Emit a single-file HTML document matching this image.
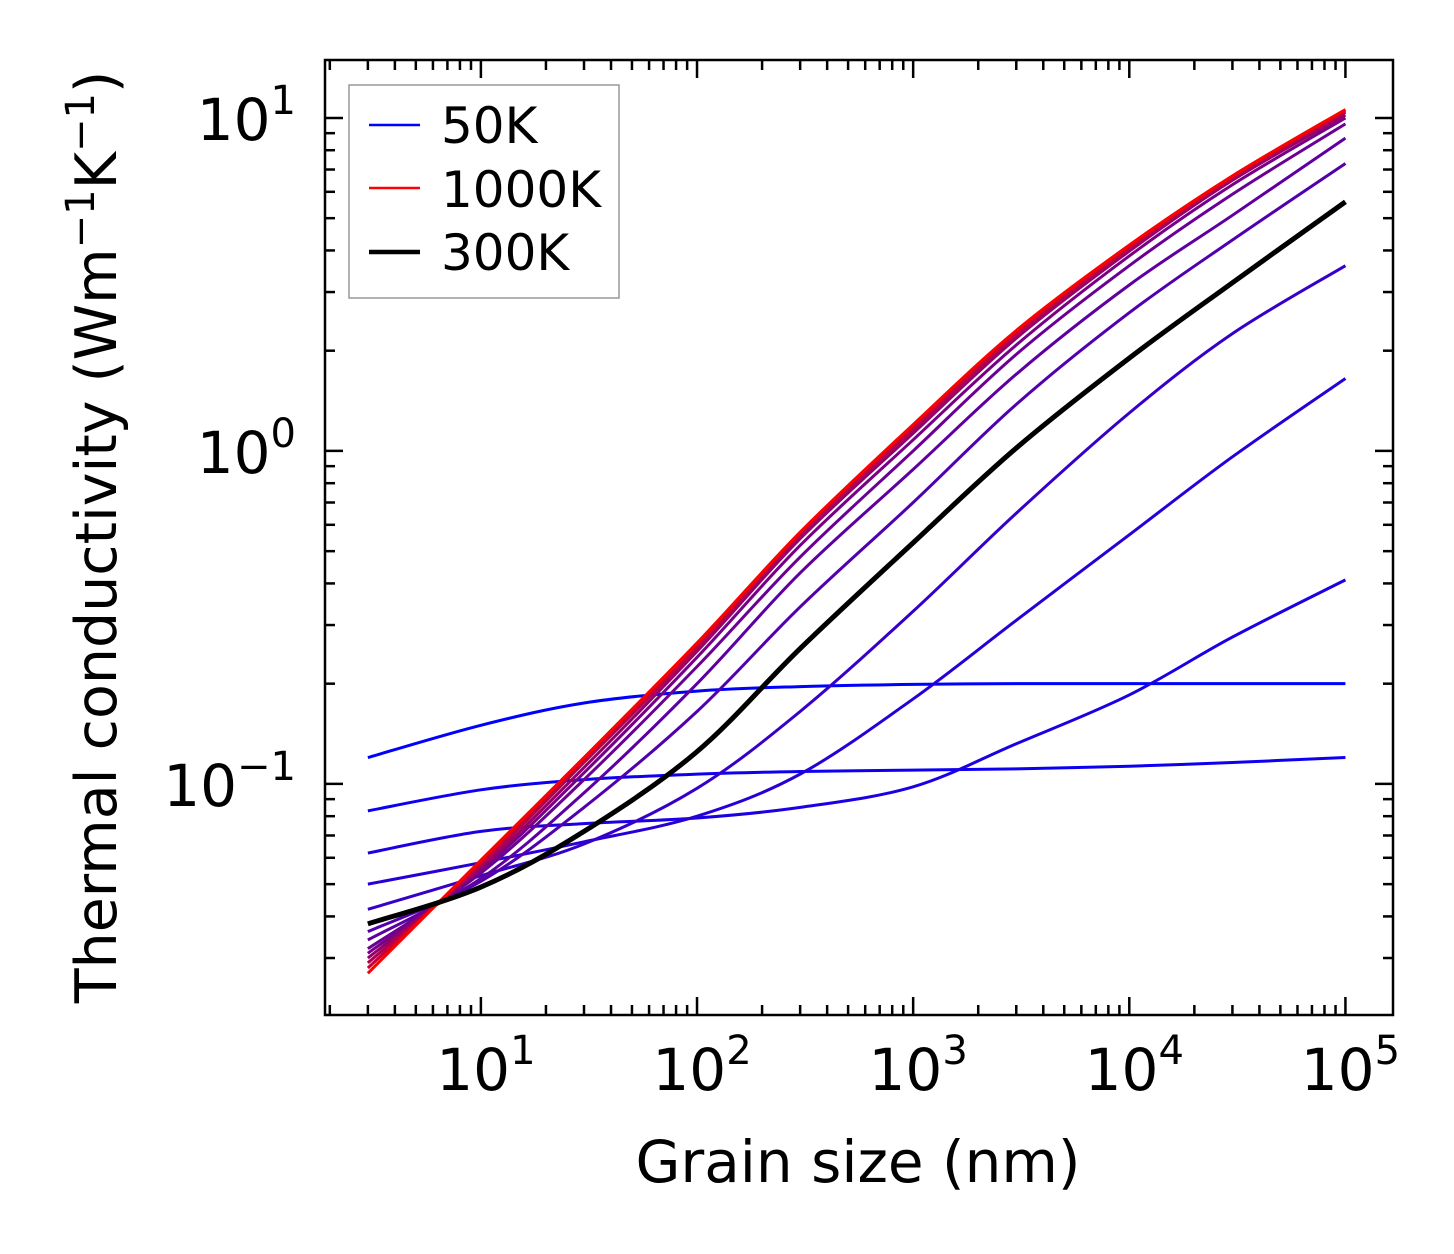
<!DOCTYPE html>
<html><head><meta charset="utf-8"><style>
html,body{margin:0;padding:0;background:#fff;}
svg{display:block;font-family:"DejaVu Sans","Liberation Sans",sans-serif;}
</style></head><body>
<svg id="chart" width="1454" height="1254" viewBox="0 0 1454 1254" xmlns="http://www.w3.org/2000/svg">
<rect x="0" y="0" width="1454" height="1254" fill="#fff"/>
<g id="curves"></g>
<g id="axes"></g>
<text x="858" y="1182" font-size="58" text-anchor="middle">Grain size (nm)</text>
<text transform="translate(116,537) rotate(-90)" font-size="57" text-anchor="middle">Thermal conductivity (Wm<tspan dy="-22" font-size="40">−1</tspan><tspan dy="22">K</tspan><tspan dy="-22" font-size="40">−1</tspan><tspan dy="22">)</tspan></text>
<g>
<rect x="349" y="85" width="270" height="213" fill="#fff" stroke="#999" stroke-width="1.5"/>
<line x1="369" y1="125" x2="420" y2="125" stroke="#0000ff" stroke-width="2.5"/>
<text x="441" y="143" font-size="50">50K</text>
<line x1="369" y1="188" x2="420" y2="188" stroke="#ff0000" stroke-width="2.5"/>
<text x="441" y="207" font-size="50">1000K</text>
<line x1="369" y1="252" x2="420" y2="252" stroke="#000" stroke-width="4.5"/>
<text x="441" y="270" font-size="50">300K</text>
</g>
</svg>
<script>
const grainSizes = [3, 10, 30, 100, 300, 1000, 3000, 1e4, 3e4, 1e5];
const curveTemps = [50, 100, 150, 200, 250, 350, 400, 450, 500, 600, 700, 800, 1000];
const k50 = [0.12, 0.15, 0.175, 0.19, 0.196, 0.199, 0.2, 0.2, 0.2, 0.2];
const k100 = [0.083, 0.096, 0.103, 0.107, 0.109, 0.11, 0.111, 0.113, 0.116, 0.12];
const k150 = [0.062, 0.072, 0.076, 0.079, 0.085, 0.098, 0.132, 0.185, 0.276, 0.41];
const k200 = [0.05, 0.058, 0.067, 0.08, 0.107, 0.18, 0.31, 0.56, 0.96, 1.65];
const k250 = [0.042, 0.053, 0.066, 0.097, 0.165, 0.33, 0.65, 1.3, 2.25, 3.6];
const k350 = [0.036, 0.051, 0.085, 0.165, 0.34, 0.7, 1.38, 2.6, 4.3, 7.3];
const k400 = [0.034, 0.052, 0.094, 0.2, 0.43, 0.88, 1.7, 3.15, 5.1, 8.7];
const k450 = [0.032, 0.054, 0.103, 0.225, 0.48, 1.0, 1.95, 3.6, 5.9, 9.6];
const k500 = [0.031, 0.055, 0.108, 0.24, 0.52, 1.08, 2.08, 3.85, 6.3, 10.0];
const k600 = [0.030, 0.056, 0.112, 0.25, 0.545, 1.13, 2.18, 3.98, 6.5, 10.2];
const k700 = [0.029, 0.057, 0.116, 0.256, 0.56, 1.16, 2.23, 4.05, 6.6, 10.4];
const k800 = [0.028, 0.058, 0.118, 0.26, 0.565, 1.18, 2.26, 4.1, 6.65, 10.5];
const k1000 = [0.027, 0.059, 0.12, 0.265, 0.57, 1.2, 2.3, 4.15, 6.7, 10.6];
const k300 = [0.038, 0.049, 0.072, 0.125, 0.255, 0.53, 1.02, 1.9, 3.2, 5.6];
const xTickLabels = ["1", "2", "3", "4", "5"];
const yTickLabels = ["−1", "0", "1"];

const NS = "http://www.w3.org/2000/svg";
const L = 325, R = 1393, T = 60, B = 1015;
const xMin = Math.log10(1.9), xMax = Math.log10(166000);
const yMin = -1.694, yMax = 1.174;
function xs(g){ return L + (Math.log10(g) - xMin) / (xMax - xMin) * (R - L); }
function ys(v){ return B - (Math.log10(v) - yMin) / (yMax - yMin) * (B - T); }

function pathFor(vals){
  const p = grainSizes.map((g,i)=>[xs(g), ys(vals[i])]);
  let d = "M" + p[0][0].toFixed(2) + "," + p[0][1].toFixed(2);
  for (let i=0;i<p.length-1;i++){
    const p0 = p[Math.max(0,i-1)], p1 = p[i], p2 = p[i+1], p3 = p[Math.min(p.length-1,i+2)];
    const c1 = [p1[0]+(p2[0]-p0[0])/6, p1[1]+(p2[1]-p0[1])/6];
    const c2 = [p2[0]-(p3[0]-p1[0])/6, p2[1]-(p3[1]-p1[1])/6];
    d += " C"+c1[0].toFixed(2)+","+c1[1].toFixed(2)+" "+c2[0].toFixed(2)+","+c2[1].toFixed(2)+" "+p2[0].toFixed(2)+","+p2[1].toFixed(2);
  }
  return d;
}
const series = [k50,k100,k150,k200,k250,k350,k400,k450,k500,k600,k700,k800,k1000];
const cg = document.getElementById("curves");
series.forEach((vals, i)=>{
  const t = (curveTemps[i]-50)/950;
  const el = document.createElementNS(NS, "path");
  el.setAttribute("d", pathFor(vals));
  el.setAttribute("fill", "none");
  el.setAttribute("stroke", "rgb("+Math.round(255*t)+",0,"+Math.round(255*(1-t))+")");
  el.setAttribute("stroke-width", "3");
  el.setAttribute("stroke-linejoin", "round");
  
  
  cg.appendChild(el);
});
const bl = document.createElementNS(NS, "path");
bl.setAttribute("d", pathFor(k300));
bl.setAttribute("fill", "none");
bl.setAttribute("stroke", "#000");
bl.setAttribute("stroke-width", "5");


cg.appendChild(bl);

const ag = document.getElementById("axes");
function line(x1,y1,x2,y2,w,name){
  const el = document.createElementNS(NS,"line");
  el.setAttribute("x1",x1); el.setAttribute("y1",y1); el.setAttribute("x2",x2); el.setAttribute("y2",y2);
  el.setAttribute("stroke","#000"); el.setAttribute("stroke-width",w);
  
  
  ag.appendChild(el);
}
for (let e=0;e<=5;e++){
  for (let m=1;m<=9;m++){
    const g = m*Math.pow(10,e);
    const lg = Math.log10(g);
    if (lg < xMin || lg > xMax) continue;
    const x = xs(g), len = m===1?18:10;
    line(x,B,x,B-len,2.5,'x-tick');
    line(x,T,x,T+len,2.5,'x-tick-top');
  }
}
for (let e=-2;e<=1;e++){
  for (let m=1;m<=9;m++){
    const v = m*Math.pow(10,e);
    const lg = Math.log10(v);
    if (lg < yMin || lg > yMax) continue;
    const y = ys(v), len = m===1?18:10;
    line(L,y,L+len,y,2.5,'y-tick');
    line(R,y,R-len,y,2.5,'y-tick-right');
  }
}
const fr = document.createElementNS(NS,"rect");
fr.setAttribute("x",L); fr.setAttribute("y",T); fr.setAttribute("width",R-L); fr.setAttribute("height",B-T);
fr.setAttribute("fill","none"); fr.setAttribute("stroke","#000"); fr.setAttribute("stroke-width","2.5");


ag.appendChild(fr);

function powLabel(x,y,exp,anchor,name){
  const t = document.createElementNS(NS,"text");
  t.setAttribute("x",x); t.setAttribute("y",y); t.setAttribute("font-size","58");
  t.setAttribute("text-anchor",anchor);
  
  
  t.textContent = "10";
  const s = document.createElementNS(NS,"tspan");
  s.setAttribute("dy","-26"); s.setAttribute("font-size","40");
  s.textContent = exp;
  t.appendChild(s);
  ag.appendChild(t);
}
xTickLabels.forEach((lab)=>{
  powLabel(xs(Math.pow(10, Number(lab))) + 5, 1090, lab, "middle", 'x-tick-label');
});
yTickLabels.forEach((lab)=>{
  const v = Math.pow(10, Number(lab.replace("−","-")));
  powLabel(296, ys(v) + 22, lab, "end", 'y-tick-label');
});
</script>
</body></html>
